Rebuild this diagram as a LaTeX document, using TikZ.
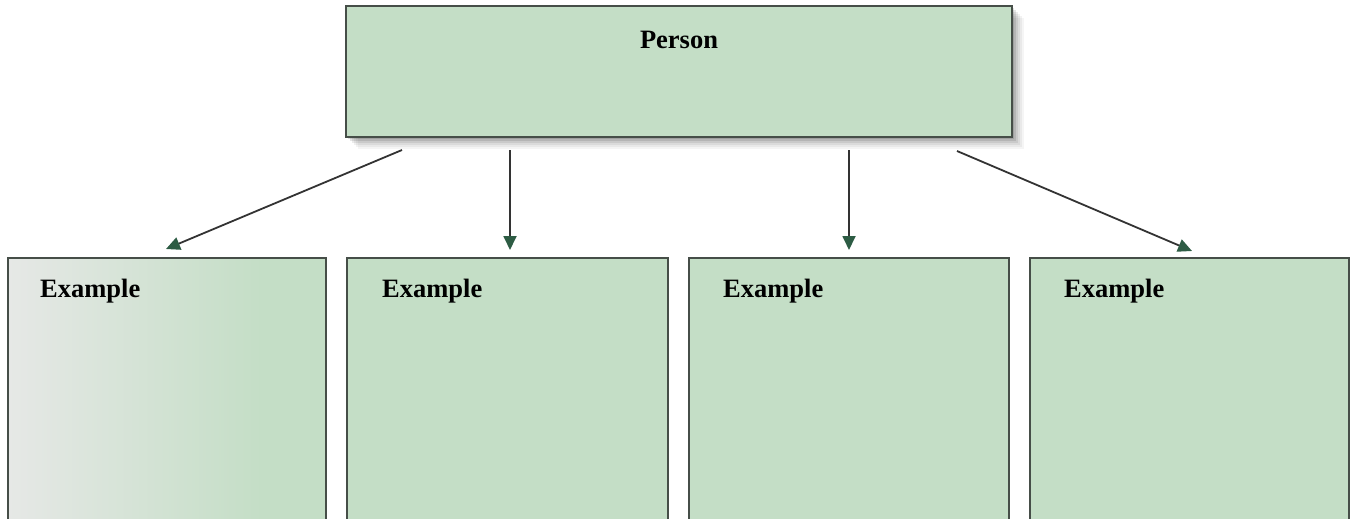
\documentclass[tikz,border=0pt]{standalone}
\usepackage{fontspec}
\setmainfont{Liberation Serif}
\usetikzlibrary{arrows.meta}
\definecolor{boxgreen}{RGB}{196,222,198}
\definecolor{boxpale}{RGB}{230,232,230}
\definecolor{edge}{RGB}{70,78,72}
\definecolor{tipgreen}{RGB}{45,92,68}
\tikzset{
  card/.style={draw=edge, line width=1.6pt, fill=boxgreen, rectangle, inner sep=0pt, outer sep=0pt, anchor=north west},
  lbl/.style={font=\fontsize{26.5}{30}\selectfont\bfseries, text=black, inner sep=0pt},
  link/.style={draw=black!80, line width=1.8pt, -{Stealth[length=14pt,width=13pt,inset=0pt,fill=tipgreen,color=tipgreen]}}
}
\begin{document}
\begin{tikzpicture}[x=1pt,y=-1pt]
\useasboundingbox (0,0) rectangle (1355,519);
% shadow of top box
\foreach \o/\a in {12/0.04,10/0.05,8/0.06,6/0.08,4/0.1,2/0.12}{
  \fill[black,opacity=\a] (346+\o,6+\o) rectangle (1012+\o,137+\o);
}
\node[card, minimum width=666pt, minimum height=131pt] (top) at (346,6) {};
\node[lbl] (person) at (679,40) {Person};
% bottom boxes
\node[card, minimum width=318pt, minimum height=262pt] (b1) at (8,258) {};
\shade[left color=boxpale, right color=boxgreen] (8,258) rectangle (262,519);
\draw[edge, line width=1.6pt] (8,520) -- (8,258) -- (326,258) -- (326,520);
\node[card, minimum width=321pt, minimum height=262pt] (b2) at (347,258) {};
\node[card, minimum width=320pt, minimum height=262pt] (b3) at (689,258) {};
\node[card, minimum width=319pt, minimum height=262pt] (b4) at (1030,258) {};
\node[lbl, anchor=west] (e1) at (40,291) {Example};
\node[lbl, anchor=west] (e2) at (382,291) {Example};
\node[lbl, anchor=west] (e3) at (723,291) {Example};
\node[lbl, anchor=west] (e4) at (1064,291) {Example};
% connectors
\coordinate (s1) at (402,150);
\coordinate (t1) at (166,249);
\coordinate (s2) at (510,150);
\coordinate (t2) at (510,250);
\coordinate (s3) at (849,150);
\coordinate (t3) at (849,250);
\coordinate (s4) at (957,151);
\coordinate (t4) at (1192,251);
\draw[link] (s1) -- (t1);
\draw[link] (s2) -- (t2);
\draw[link] (s3) -- (t3);
\draw[link] (s4) -- (t4);
\end{tikzpicture}
\end{document}
